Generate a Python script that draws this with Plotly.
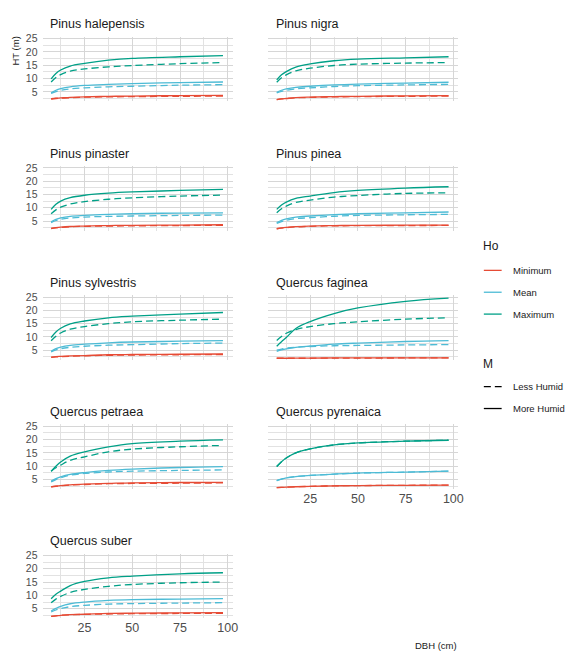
import plotly.graph_objects as go

W, H = 568, 657

SPECIES = [
    "Pinus halepensis", "Pinus nigra", "Pinus pinaster", "Pinus pinea",
    "Pinus sylvestris", "Quercus faginea", "Quercus petraea",
    "Quercus pyrenaica", "Quercus suber",
]

# Diameter at breast height (cm) where the fitted heights are given
DBH = [7.5, 10, 12.5, 17.5, 25, 37.5, 50, 75, 97.5]

# Height (m) by species, one row per species in SPECIES order
min_more = [
    [2.4, 2.6, 2.7, 2.9, 3.1, 3.3, 3.4, 3.6, 3.7],
    [2.1, 2.35, 2.5, 2.8, 3.0, 3.2, 3.3, 3.5, 3.6],
    [2.25, 2.5, 2.7, 2.95, 3.1, 3.3, 3.4, 3.5, 3.6],
    [2.1, 2.4, 2.6, 2.9, 3.1, 3.3, 3.35, 3.45, 3.5],
    [2.4, 2.6, 2.7, 2.85, 3.0, 3.3, 3.4, 3.5, 3.6],
    [2.0, 2.0, 2.0, 2.03, 2.05, 2.1, 2.1, 2.1, 2.15],
    [2.25, 2.5, 2.7, 3.0, 3.25, 3.5, 3.75, 3.85, 3.9],
    [1.9, 2.0, 2.1, 2.25, 2.4, 2.6, 2.7, 2.8, 2.9],
    [2.1, 2.3, 2.5, 2.75, 2.9, 3.2, 3.3, 3.4, 3.5],
]
min_less = [
    [2.3, 2.5, 2.6, 2.8, 3.0, 3.1, 3.2, 3.3, 3.4],
    [2.1, 2.35, 2.5, 2.75, 2.9, 3.1, 3.2, 3.3, 3.4],
    [2.2, 2.45, 2.6, 2.85, 3.0, 3.1, 3.2, 3.3, 3.4],
    [2.1, 2.35, 2.5, 2.8, 3.0, 3.2, 3.25, 3.3, 3.35],
    [2.3, 2.5, 2.6, 2.75, 2.9, 3.1, 3.2, 3.3, 3.4],
    [2.0, 2.0, 2.0, 2.0, 2.0, 2.05, 2.05, 2.1, 2.1],
    [2.2, 2.45, 2.6, 2.9, 3.1, 3.4, 3.5, 3.6, 3.7],
    [1.9, 2.0, 2.1, 2.25, 2.4, 2.6, 2.7, 2.8, 2.9],
    [2.1, 2.3, 2.5, 2.7, 2.85, 3.0, 3.1, 3.2, 3.25],
]
mean_more = [
    [4.6, 5.6, 6.2, 6.9, 7.4, 7.8, 8.1, 8.5, 8.7],
    [4.85, 5.6, 6.1, 6.7, 7.1, 7.6, 7.9, 8.3, 8.6],
    [4.75, 5.6, 6.15, 6.75, 7.1, 7.5, 7.75, 8.0, 8.1],
    [4.4, 5.25, 5.8, 6.5, 6.9, 7.4, 7.75, 8.1, 8.4],
    [4.6, 5.6, 6.2, 6.85, 7.3, 7.8, 8.1, 8.4, 8.6],
    [4.6, 5.1, 5.5, 6.1, 6.6, 7.3, 7.7, 8.3, 8.6],
    [4.4, 5.3, 6.0, 6.9, 7.6, 8.4, 8.9, 9.5, 9.8],
    [4.6, 5.15, 5.6, 6.1, 6.5, 7.0, 7.4, 7.75, 8.1],
    [4.1, 5.1, 5.9, 6.85, 7.5, 8.1, 8.4, 8.6, 8.75],
]
mean_less = [
    [4.4, 5.1, 5.6, 6.1, 6.5, 6.9, 7.1, 7.5, 7.7],
    [4.6, 5.2, 5.6, 6.1, 6.5, 7.0, 7.3, 7.6, 7.8],
    [4.4, 5.2, 5.65, 6.15, 6.5, 6.75, 6.9, 7.1, 7.25],
    [4.1, 4.8, 5.3, 5.9, 6.25, 6.8, 7.1, 7.35, 7.5],
    [4.4, 5.1, 5.6, 6.1, 6.5, 6.9, 7.1, 7.5, 7.7],
    [5.0, 5.45, 5.8, 6.15, 6.4, 6.7, 6.8, 7.0, 7.1],
    [4.1, 4.95, 5.6, 6.6, 7.25, 7.8, 8.1, 8.4, 8.6],
    [4.6, 5.15, 5.6, 6.1, 6.5, 7.0, 7.4, 7.75, 8.1],
    [3.75, 4.5, 5.0, 5.75, 6.25, 6.7, 6.9, 7.1, 7.25],
]
max_more = [
    [9.9, 11.9, 13.2, 14.7, 15.7, 16.9, 17.6, 18.2, 18.6],
    [9.5, 11.4, 12.6, 14.3, 15.5, 16.7, 17.3, 17.8, 18.2],
    [9.4, 11.3, 12.5, 13.8, 14.7, 15.5, 15.95, 16.5, 16.9],
    [9.4, 11.0, 12.1, 13.5, 14.4, 15.7, 16.5, 17.4, 17.9],
    [9.8, 11.9, 13.3, 14.9, 16.0, 17.2, 17.8, 18.6, 19.2],
    [6.5, 8.2, 9.8, 13.2, 15.8, 18.8, 20.9, 23.4, 24.6],
    [8.1, 10.0, 11.6, 13.8, 15.4, 17.25, 18.5, 19.4, 19.9],
    [9.9, 11.7, 13.1, 15.0, 16.5, 18.0, 18.75, 19.4, 19.75],
    [8.75, 10.4, 11.6, 13.7, 15.25, 16.6, 17.25, 18.1, 18.5],
]
max_less = [
    [8.7, 10.4, 11.5, 12.8, 13.6, 14.4, 14.9, 15.6, 16.0],
    [8.6, 10.3, 11.4, 12.9, 13.9, 14.9, 15.4, 15.8, 16.0],
    [7.75, 9.2, 10.2, 11.4, 12.3, 13.2, 13.75, 14.4, 14.75],
    [8.1, 9.6, 10.6, 12.0, 12.9, 14.0, 14.6, 15.4, 15.6],
    [8.6, 10.3, 11.5, 12.9, 13.9, 15.0, 15.7, 16.3, 16.7],
    [8.7, 10.2, 11.4, 12.8, 13.9, 15.0, 15.7, 16.7, 17.2],
    [8.1, 9.4, 10.4, 12.2, 13.5, 15.4, 16.4, 17.3, 17.8],
    [9.9, 11.7, 13.1, 15.0, 16.5, 18.0, 18.75, 19.4, 19.75],
    [7.25, 8.6, 9.6, 11.1, 12.25, 13.4, 14.1, 14.75, 15.0],
]

HO_LEVELS = ["Minimum", "Mean", "Maximum"]
M_LEVELS = ["Less Humid", "More Humid"]
HO_COLORS = {"Minimum": "#E64B35", "Mean": "#4DBBD5", "Maximum": "#00A087"}
M_DASH = {"Less Humid": "7px,4px", "More Humid": "solid"}
SERIES = {
    ("Minimum", "Less Humid"): min_less, ("Minimum", "More Humid"): min_more,
    ("Mean", "Less Humid"): mean_less, ("Mean", "More Humid"): mean_more,
    ("Maximum", "Less Humid"): max_less, ("Maximum", "More Humid"): max_more,
}

X_RANGE = [3.0, 102.5]
Y_RANGE = [1.4, 25.7]
FONT = "Liberation Sans, Arial, sans-serif"
GRID = "#D6D6D6"
MINOR_GRID = "#E2E2E2"

COL_PX = [(43, 235), (271, 463)]
ROW_TOP, ROW_STEP, PANEL_H = 33, 130, 65


def fx(p):
    return p / W


def fy(p):
    return 1 - p / H


fig = go.Figure()
layout = {}
annotations = []
shapes = []

for i, sp in enumerate(SPECIES):
    r, c = divmod(i, 2)
    n = i + 1
    suffix = "" if n == 1 else str(n)
    x0, x1 = COL_PX[c]
    top = ROW_TOP + ROW_STEP * r
    bot = top + PANEL_H
    show_x = sp in ("Quercus pyrenaica", "Quercus suber")
    layout["xaxis" + suffix] = dict(
        domain=[fx(x0), fx(x1)], range=X_RANGE, anchor="y" + suffix,
        tickmode="linear", tick0=0, dtick=25, showticklabels=show_x,
        ticks="", showgrid=True, gridcolor=GRID, gridwidth=1,
        minor=dict(dtick=12.5, tick0=0, showgrid=True, gridcolor=MINOR_GRID, gridwidth=1),
        zeroline=False, showline=False,
        tickfont=dict(size=12.5, color="#4D4D4D", family=FONT),
    )
    layout["yaxis" + suffix] = dict(
        domain=[fy(bot), fy(top)], range=Y_RANGE, anchor="x" + suffix,
        tickmode="linear", tick0=0, dtick=5, showticklabels=(c == 0),
        ticks="", showgrid=True, gridcolor=GRID, gridwidth=1,
        minor=dict(dtick=2.5, tick0=0, showgrid=True, gridcolor=MINOR_GRID, gridwidth=1),
        zeroline=False, showline=False, ticklabelstandoff=4,
        tickfont=dict(size=10.5, color="#4D4D4D", family=FONT),
    )
    for ho in HO_LEVELS:
        for m in M_LEVELS:
            fig.add_trace(go.Scatter(
                x=DBH, y=SERIES[(ho, m)][i], mode="lines",
                line=dict(color=HO_COLORS[ho], width=1.3, dash=M_DASH[m],
                          shape="spline", smoothing=1.0),
                xaxis="x" + suffix, yaxis="y" + suffix,
                name=f"{ho} / {m}", showlegend=False,
                hovertemplate=sp + "<br>DBH %{x} cm<br>HT %{y} m<extra></extra>",
            ))
    annotations.append(dict(
        text=sp, x=fx(x0 + 6), y=fy(20.5 + ROW_STEP * r), xref="paper", yref="paper",
        xanchor="left", yanchor="middle", showarrow=False,
        font=dict(size=12.5, color="#1A1A1A", family=FONT),
    ))

# Axis titles
annotations.append(dict(
    text="HT (m)", x=fx(15.5), y=fy(47.5), xref="paper", yref="paper",
    textangle=-90, xanchor="center", yanchor="middle", showarrow=False,
    font=dict(size=9.5, color="#1A1A1A", family=FONT),
))
annotations.append(dict(
    text="DBH (cm)", x=fx(464), y=fy(645), xref="paper", yref="paper",
    xanchor="right", yanchor="middle", showarrow=False,
    font=dict(size=9.5, color="#1A1A1A", family=FONT),
))

# Legends: colour = Ho, line type = M
KEY_X0, KEY_X1, LABEL_X = 489, 507, 516
annotations.append(dict(
    text="Ho", x=fx(486), y=fy(243), xref="paper", yref="paper",
    xanchor="left", yanchor="middle", showarrow=False,
    font=dict(size=12, color="#1A1A1A", family=FONT),
))
for k, ho in enumerate(HO_LEVELS):
    yy = 268 + 22 * k
    shapes.append(dict(type="line", xref="paper", yref="paper",
                       x0=fx(KEY_X0), x1=fx(KEY_X1), y0=fy(yy), y1=fy(yy),
                       line=dict(color=HO_COLORS[ho], width=1.3)))
    annotations.append(dict(
        text=ho, x=fx(LABEL_X), y=fy(yy), xref="paper", yref="paper",
        xanchor="left", yanchor="middle", showarrow=False,
        font=dict(size=9.5, color="#1A1A1A", family=FONT),
    ))
annotations.append(dict(
    text="M", x=fx(486), y=fy(362), xref="paper", yref="paper",
    xanchor="left", yanchor="middle", showarrow=False,
    font=dict(size=12, color="#1A1A1A", family=FONT),
))
for k, m in enumerate(M_LEVELS):
    yy = 385 + 22 * k
    shapes.append(dict(type="line", xref="paper", yref="paper",
                       x0=fx(KEY_X0), x1=fx(KEY_X1), y0=fy(yy), y1=fy(yy),
                       line=dict(color="#000000", width=1.3, dash=M_DASH[m])))
    annotations.append(dict(
        text=m, x=fx(LABEL_X), y=fy(yy), xref="paper", yref="paper",
        xanchor="left", yanchor="middle", showarrow=False,
        font=dict(size=9.5, color="#1A1A1A", family=FONT),
    ))

fig.update_layout(
    width=W, height=H, margin=dict(l=0, r=0, t=0, b=0),
    paper_bgcolor="white", plot_bgcolor="white",
    font=dict(family=FONT, color="#1A1A1A"),
    annotations=annotations, shapes=shapes, showlegend=False,
    **layout,
)

fig.write_html("out.html")
